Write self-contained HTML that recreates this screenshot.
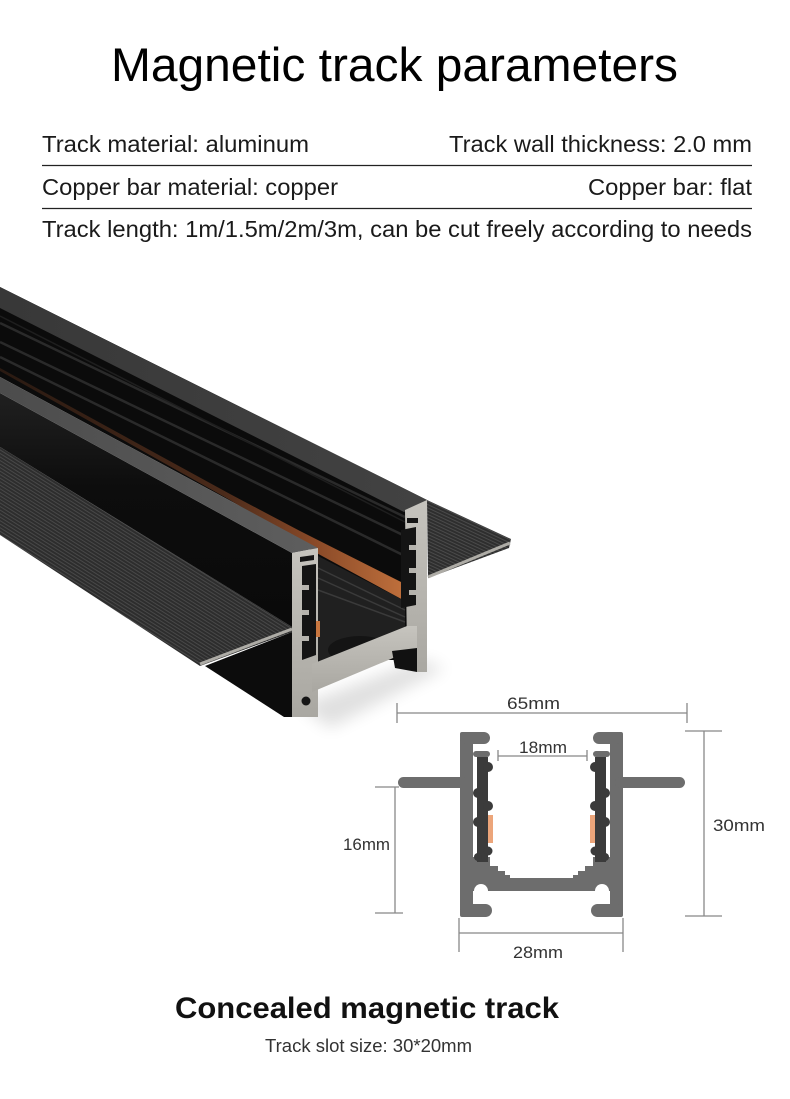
<!DOCTYPE html>
<html>
<head>
<meta charset="utf-8">
<style>
  html,body{margin:0;padding:0;background:#fff;}
  body{width:790px;height:1099px;overflow:hidden;}
  svg{display:block;}
  text{font-family:"Liberation Sans", Arial, sans-serif;}
</style>
</head>
<body>
<svg width="790" height="1099" viewBox="0 0 790 1099" xmlns="http://www.w3.org/2000/svg">
  <defs>
    <pattern id="stL" patternUnits="userSpaceOnUse" width="6" height="3" patternTransform="rotate(32)">
      <rect width="6" height="3" fill="#2d2d2d"/>
      <rect width="6" height="1" fill="#484848"/>
    </pattern>
    <pattern id="stR" patternUnits="userSpaceOnUse" width="6" height="3" patternTransform="rotate(25)">
      <rect width="6" height="3" fill="#2e2e2e"/>
      <rect width="6" height="1" fill="#4a4a4a"/>
    </pattern>
    <linearGradient id="sideG" x1="0" y1="0" x2="0" y2="1">
      <stop offset="0" stop-color="#202020"/>
      <stop offset="0.4" stop-color="#0d0d0d"/>
      <stop offset="1" stop-color="#0a0a0a"/>
    </linearGradient>
    <linearGradient id="copG" gradientUnits="userSpaceOnUse" x1="0" y1="0" x2="405" y2="0">
      <stop offset="0" stop-color="#2a1a12"/>
      <stop offset="0.55" stop-color="#4a2a1a"/>
      <stop offset="0.78" stop-color="#8a4a28"/>
      <stop offset="1" stop-color="#c0703c"/>
    </linearGradient>
    <linearGradient id="bandG" gradientUnits="userSpaceOnUse" x1="0" y1="0" x2="318" y2="0">
      <stop offset="0" stop-color="#4c4c4c"/>
      <stop offset="1" stop-color="#5e5e5e"/>
    </linearGradient>
    <linearGradient id="topG" gradientUnits="userSpaceOnUse" x1="0" y1="0" x2="427" y2="0">
      <stop offset="0" stop-color="#383838"/>
      <stop offset="1" stop-color="#424242"/>
    </linearGradient>
    <linearGradient id="silG" x1="0" y1="0" x2="0" y2="1">
      <stop offset="0" stop-color="#c6c4be"/>
      <stop offset="1" stop-color="#a9a7a1"/>
    </linearGradient>
    <filter id="blur" x="-50%" y="-50%" width="200%" height="200%">
      <feGaussianBlur stdDeviation="8"/>
    </filter>
    <g id="half">
      <g fill="#6d6d6d">
        <rect x="460" y="732" width="13" height="185" rx="2"/>
        <rect x="460" y="732" width="30" height="12" rx="6"/>
        <rect x="473" y="751" width="17" height="6" rx="3"/>
        <polygon points="473,857 490,857 490,866 498,866 498,871 505,871 505,875 510,875 510,878 473,878"/>
        <rect x="473" y="878" width="69" height="13"/>
        <rect x="460" y="904" width="32" height="13" rx="6.5"/>
        <rect x="398" y="777" width="70" height="11" rx="5.5"/>
      </g>
      <g fill="#3b3b3b">
        <rect x="477" y="757" width="11" height="105"/>
        <circle cx="488" cy="767" r="5"/>
        <circle cx="488" cy="806" r="5"/>
        <circle cx="488" cy="851" r="4.5"/>
        <circle cx="478" cy="793" r="5"/>
        <circle cx="478" cy="822" r="5"/>
        <circle cx="478" cy="857" r="4"/>
      </g>
      <rect x="488" y="815" width="5" height="28" fill="#eca57a"/>
      <circle cx="481" cy="891" r="7" fill="#fff"/>
    </g>
  </defs>

  <rect width="790" height="1099" fill="#fff"/>

  <!-- Header -->
  <text x="111" y="81" font-size="47" textLength="567" lengthAdjust="spacingAndGlyphs" fill="#000">Magnetic track parameters</text>

  <text x="42" y="152" font-size="23.5" textLength="267" lengthAdjust="spacingAndGlyphs" fill="#1a1a1a">Track material: aluminum</text>
  <text x="449" y="152" font-size="23.5" textLength="303" lengthAdjust="spacingAndGlyphs" fill="#1a1a1a">Track wall thickness: 2.0 mm</text>
  <line x1="42" y1="165.5" x2="752" y2="165.5" stroke="#222" stroke-width="1.2"/>

  <text x="42" y="195" font-size="23.5" textLength="296" lengthAdjust="spacingAndGlyphs" fill="#1a1a1a">Copper bar material: copper</text>
  <text x="588" y="195" font-size="23.5" textLength="164" lengthAdjust="spacingAndGlyphs" fill="#1a1a1a">Copper bar: flat</text>
  <line x1="42" y1="208.5" x2="752" y2="208.5" stroke="#222" stroke-width="1.2"/>

  <text x="42" y="237" font-size="23.5" textLength="710" lengthAdjust="spacingAndGlyphs" fill="#1a1a1a">Track length: 1m/1.5m/2m/3m, can be cut freely according to needs</text>

  <!-- Photo: shadow -->
  <polygon points="300,705 420,660 445,668 330,728" fill="#000" opacity="0.12" filter="url(#blur)"/>

  <!-- right flange -->
  <polygon points="427,500 511,539 509,548 428,578" fill="url(#stR)"/>
  <line x1="428" y1="577" x2="510" y2="543" stroke="#aeaca6" stroke-width="3"/>

  <!-- left flange -->
  <polygon points="0,447 292,627 292,632 200,666 0,535" fill="url(#stL)"/>
  <line x1="200" y1="664" x2="292" y2="629" stroke="#aeaca6" stroke-width="3"/>

  <!-- black underside below left flange -->
  <polygon points="205,666 292,632 293,717 284,717" fill="#0c0c0c"/>

  <!-- left wall side face -->
  <polygon points="0,393 292,553 292,627 0,447" fill="url(#sideG)"/>

  <!-- upper body -->
  <polygon points="0,287 427,500 427,660 318,660 318,548 0,377" fill="#0b0b0b"/>
  <polygon points="0,287 427,500 404,512 0,308" fill="url(#topG)"/>
  <g stroke="#2a2a2a" stroke-width="2.5">
    <line x1="0" y1="323" x2="405" y2="517"/>
    <line x1="0" y1="342" x2="405" y2="536"/>
    <line x1="0" y1="357" x2="405" y2="556"/>
  </g>
  <line x1="0" y1="316" x2="405" y2="522" stroke="#1e1e1e" stroke-width="1.5"/>

  <!-- copper bar -->
  <polygon points="0,368 230,494 300,531 405,584 405,601 300,544 230,500 0,371" fill="url(#copG)"/>

  <!-- left wall top face band -->
  <polygon points="0,377 318,548 292,553 0,393" fill="url(#bandG)"/>

  <!-- interior of channel -->
  <polygon points="318,556 405,601 405,628 318,665" fill="#202020"/>
  <g stroke="#3a3a3a" stroke-width="1.5">
    <line x1="318" y1="568" x2="405" y2="610"/>
    <line x1="318" y1="578" x2="405" y2="617"/>
    <line x1="318" y1="590" x2="405" y2="622"/>
  </g>
  <ellipse cx="360" cy="650" rx="32" ry="14" fill="#141414"/>

  <!-- silver cross-section -->
  <polygon points="292,553 318,548 318,717 292,717" fill="url(#silG)"/>
  <polygon points="302,566 316,564 316,655 302,660" fill="#141414"/>
  <g fill="#b5b3ad">
    <rect x="302" y="585" width="7" height="5"/>
    <rect x="302" y="610" width="7" height="5"/>
    <rect x="302" y="636" width="7" height="5"/>
  </g>
  <rect x="316" y="621" width="4" height="16" fill="#c8763f"/>
  <polygon points="300,557 314,555 314,560 300,562" fill="#151515"/>
  <circle cx="306" cy="701" r="4.5" fill="#151515"/>

  <polygon points="405,510 427,500 427,672 417,672 417,650 407,650" fill="url(#silG)"/>
  <polygon points="401,530 416,527 416,605 401,608" fill="#141414"/>
  <g fill="#b5b3ad">
    <rect x="409" y="545" width="7" height="5"/>
    <rect x="409" y="568" width="7" height="5"/>
    <rect x="409" y="590" width="7" height="5"/>
  </g>
  <rect x="407" y="518" width="11" height="5" fill="#151515"/>

  <polygon points="312,664 407,626 417,626 417,648 312,692" fill="url(#silG)"/>
  <polygon points="392,651 417,648 417,672 395,668" fill="#111"/>

  <!-- Diagram: profile -->
  <use href="#half"/>
  <use href="#half" transform="translate(1083,0) scale(-1,1)"/>

  <!-- dimension lines -->
  <g stroke="#888" stroke-width="1.3" fill="none">
    <line x1="397" y1="713" x2="687" y2="713"/>
    <line x1="397" y1="703" x2="397" y2="723"/>
    <line x1="687" y1="703" x2="687" y2="723"/>

    <line x1="498" y1="756" x2="587" y2="756"/>
    <line x1="498" y1="750" x2="498" y2="761"/>
    <line x1="587" y1="750" x2="587" y2="761"/>

    <line x1="395" y1="787" x2="395" y2="913"/>
    <line x1="375" y1="787" x2="399" y2="787"/>
    <line x1="375" y1="913" x2="403" y2="913"/>

    <line x1="704" y1="731" x2="704" y2="916"/>
    <line x1="685" y1="731" x2="722" y2="731"/>
    <line x1="685" y1="916" x2="722" y2="916"/>

    <line x1="459" y1="933" x2="623" y2="933"/>
    <line x1="459" y1="918" x2="459" y2="952"/>
    <line x1="623" y1="918" x2="623" y2="952"/>
  </g>

  <g font-size="17" fill="#333">
    <text x="507" y="709" textLength="53" lengthAdjust="spacingAndGlyphs">65mm</text>
    <text x="519" y="753" textLength="48" lengthAdjust="spacingAndGlyphs">18mm</text>
    <text x="343" y="850" textLength="47" lengthAdjust="spacingAndGlyphs">16mm</text>
    <text x="713" y="831" textLength="52" lengthAdjust="spacingAndGlyphs">30mm</text>
    <text x="513" y="958" textLength="50" lengthAdjust="spacingAndGlyphs">28mm</text>
  </g>

  <!-- Footer -->
  <text x="175" y="1018" font-size="30" font-weight="bold" textLength="384" lengthAdjust="spacingAndGlyphs" fill="#111">Concealed magnetic track</text>
  <text x="265" y="1052" font-size="18.5" textLength="207" lengthAdjust="spacingAndGlyphs" fill="#333">Track slot size: 30*20mm</text>
</svg>
</body>
</html>
